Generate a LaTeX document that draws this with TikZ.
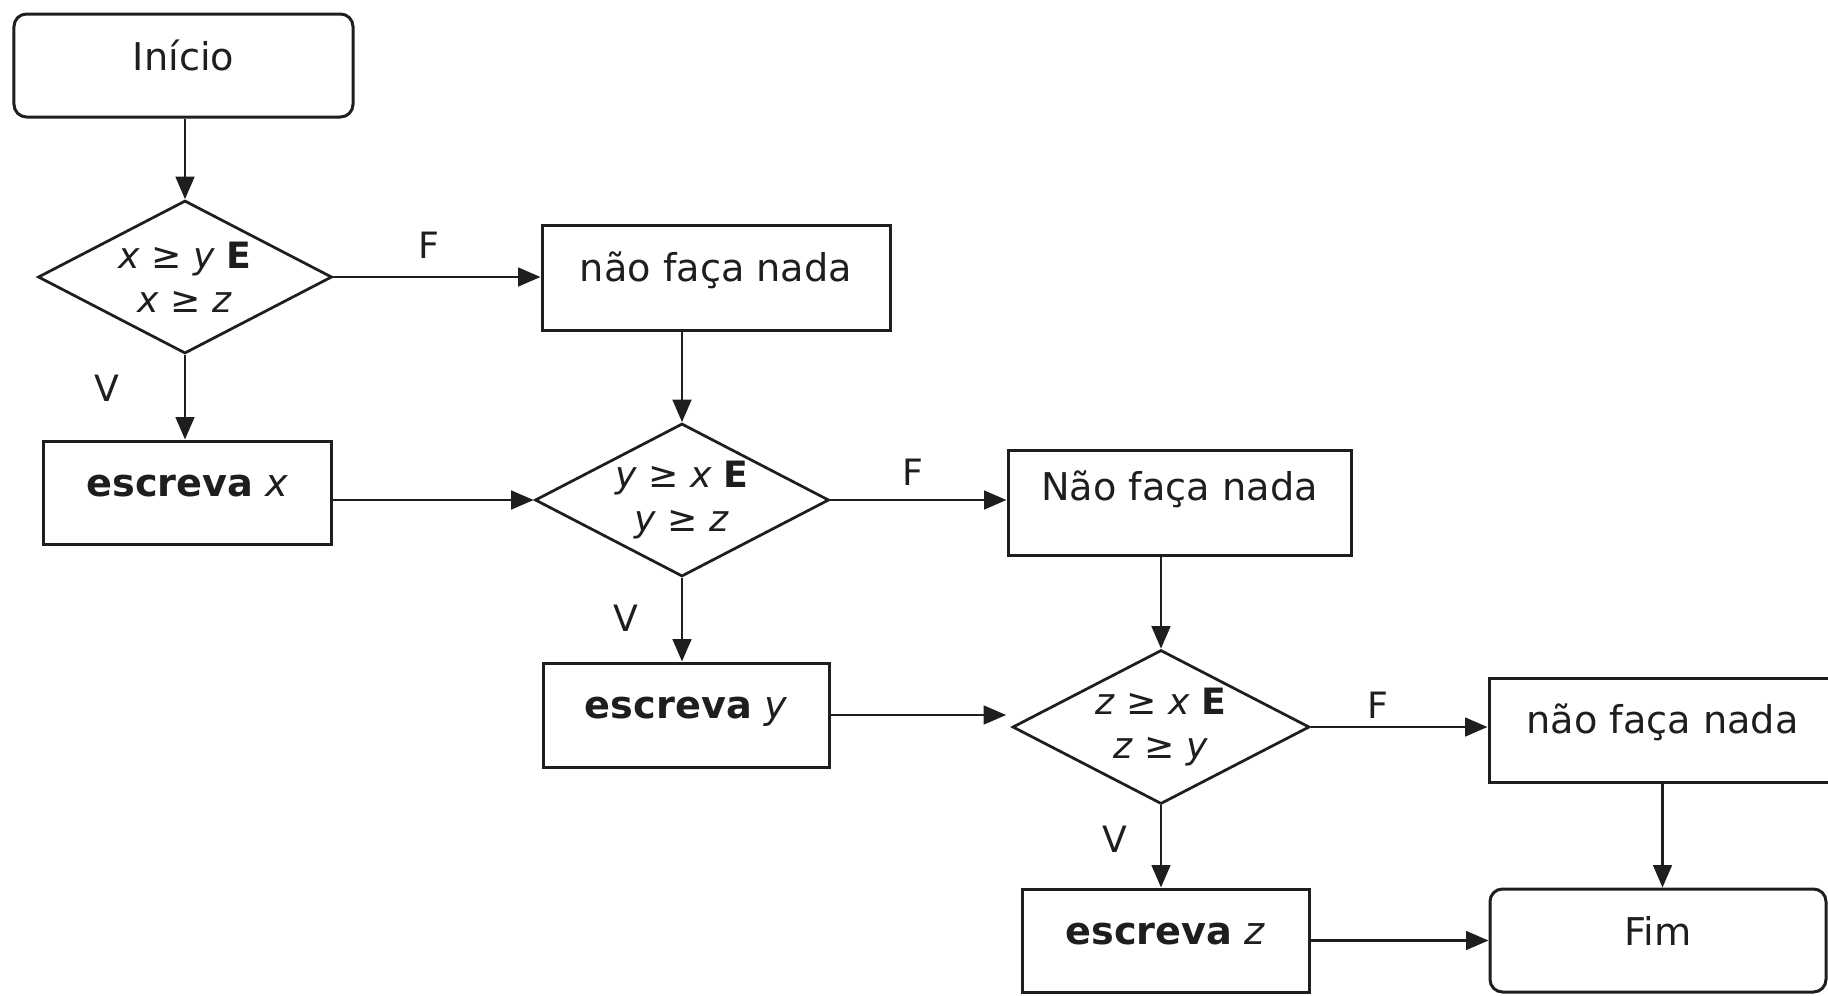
\documentclass[tikz,border=0pt]{standalone}
\usepackage{fontspec}
\setmainfont{DejaVu Sans}
\usetikzlibrary{shapes.geometric,arrows.meta}
\definecolor{ink}{HTML}{1E1E1E}
\tikzset{
  proc/.style={draw=ink, line width=1.2pt, rectangle, inner sep=2pt,
    font=\fontsize{15.3}{18}\selectfont, text=ink, text height=11.6pt, text depth=8.6pt},
  term/.style={proc, rounded corners=5pt, text depth=8pt},
  decis/.style={draw=ink, line width=1.1pt, diamond, aspect=2, inner sep=0pt,
    minimum width=117.6pt, minimum height=61.2pt, align=center,
    font=\fontsize{14.5}{17.7}\selectfont, text=ink},
  lbl/.style={font=\fontsize{14.5}{17}\selectfont, text=ink, inner sep=0pt},
  flow/.style={draw=ink, line width=1pt, -{Triangle[length=9pt,width=7.5pt]}}
}
\begin{document}
\begin{tikzpicture}[x=0.4pt,y=-0.4pt]
\useasboundingbox (0,0) rectangle (1828,995);
% nodes
\node[term, minimum width=135.6pt, minimum height=41.2pt] (start) at (183.5,65.5) {Início};
\node[decis] (d1) at (185,277) {\textit{x} ≥ \textit{y} \textbf{E}\\\textit{x} ≥ \textit{z}};
\node[proc, minimum width=139.2pt, minimum height=42pt] (n1) at (716,277.5) {não faça nada};
\node[proc, minimum width=114.8pt, minimum height=41.2pt] (ex) at (187.5,492.5) {\textbf{escreva} \textit{x}};
\node[decis] (d2) at (682,500) {\textit{y} ≥ \textit{x} \textbf{E}\\\textit{y} ≥ \textit{z}};
\node[proc, minimum width=137.2pt, minimum height=42pt, text depth=13pt] (n2) at (1179.5,502.5) {Não faça nada};
\node[proc, minimum width=114.4pt, minimum height=41.6pt] (ey) at (686,715) {\textbf{escreva} \textit{y}};
\node[decis, minimum width=118.8pt, minimum height=61.6pt] (d3) at (1161,727) {\textit{z} ≥ \textit{x} \textbf{E}\\\textit{z} ≥ \textit{y}};
\node[proc, minimum width=138.8pt, minimum height=41.6pt] (n3) at (1662.5,730) {não faça nada};
\node[proc, minimum width=114.8pt, minimum height=41.2pt] (ez) at (1165.5,940.5) {\textbf{escreva} \textit{z}};
\node[term, minimum width=134.4pt, minimum height=41.2pt] (fim) at (1658,940.5) {Fim};
% labels
\node[lbl] (f1) at (429,245) {F};
\node[lbl] (v1) at (107,388) {V};
\node[lbl] (f2) at (913,472) {F};
\node[lbl] (v2) at (626,618) {V};
\node[lbl] (f3) at (1378,705) {F};
\node[lbl] (v3) at (1115,839) {V};
% connectors
\draw[flow] (d1.north |- start.south) -- (d1.north);
\draw[flow] (d1.east) -- (d1.east -| n1.west);
\draw[flow] (d1.south) -- (d1.south |- ex.north);
\draw[flow] (ex.east |- d2.west) -- (d2.west);
\draw[flow] (d2.north |- n1.south) -- (d2.north);
\draw[flow] (d2.east) -- (d2.east -| n2.west);
\draw[flow] (d2.south) -- (d2.south |- ey.north);
\draw[flow, shorten >=2pt] (ey.east) -- (ey.east -| d3.west);
\draw[flow] (d3.north |- n2.south) -- (d3.north);
\draw[flow] (d3.east) -- (d3.east -| n3.west);
\draw[flow] (d3.south) -- (d3.south |- ez.north);
\draw[flow] (n3.south) -- (n3.south |- fim.north);
\draw[flow] (ez.east) -- (fim.west);
\end{tikzpicture}
\end{document}
